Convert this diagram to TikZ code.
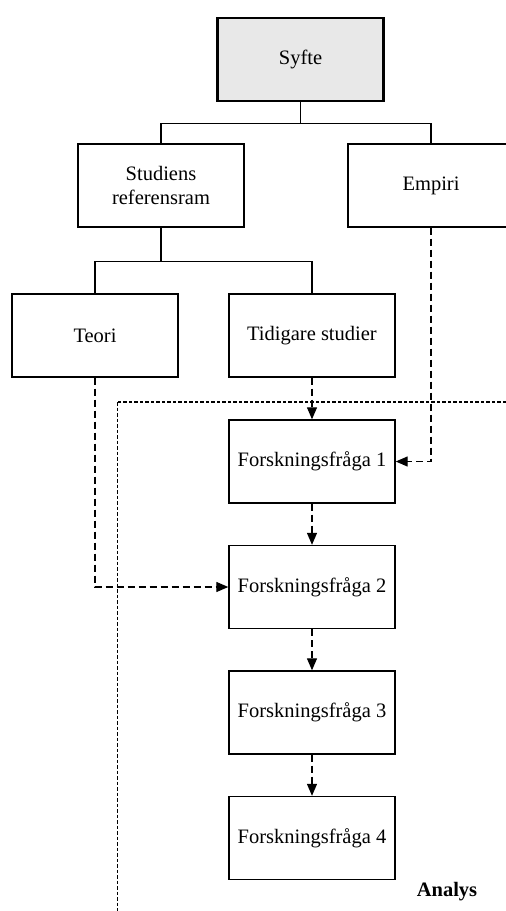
\documentclass[tikz,border=0pt]{standalone}
\usepackage{fontspec}
\setmainfont{Liberation Serif}
\usetikzlibrary{arrows.meta,positioning}

\begin{document}
\begin{tikzpicture}[x=1pt, y=-1pt,
    box/.style={draw, line width=1.4pt, minimum width=166pt, minimum height=83pt, align=center, font=\fontsize{20.5}{24}\selectfont},
    topbox/.style={box, fill=gray!18, line width=2.8pt},
    link/.style={line width=1.3pt},
    flow/.style={-{Triangle[length=12pt, width=10pt]}, line width=1.3pt, dash pattern=on 7pt off 4pt},
    analys/.style={line width=1.2pt, dash pattern=on 3.5pt off 2pt}
]
\useasboundingbox (0,0) rectangle (506,911);
\clip (0,0) rectangle (506,911);

% Top of the tree
\node[topbox] (syfte) at (300.5, 59.5) {Syfte};
\node[box] (ram) at (161, 185.5) {Studiens\\referensram};
\node[box] (empiri) at (431, 185.5) {Empiri};
\node[box] (teori) at (95, 335.5) {Teori};
\node[box] (tidigare) at (312, 335.5) {Tidigare studier};

% Research questions
\node[box] (ff1) at (312, 461.5) {Forskningsfråga 1};
\node[box] (ff2) at (312, 587) {Forskningsfråga 2};
\node[box] (ff3) at (312, 712.5) {Forskningsfråga 3};
\node[box] (ff4) at (312, 838) {Forskningsfråga 4};

% Tree lines
\draw[link] (syfte.south) -- ++(0,21) coordinate (bus1);
\draw[link] (bus1) -| (ram.north);
\draw[link] (bus1) -| (empiri.north);
\draw[link] (ram.south) -- ++(0,34) coordinate (bus2);
\draw[link] (bus2) -| (teori.north);
\draw[link] (bus2) -| (tidigare.north);

% Dashed arrows
\draw[flow] (tidigare.south) -- (ff1.north);
\draw[flow] (empiri.south) |- (ff1.east);
\draw[flow] (teori.south) |- (ff2.west);
\draw[flow] (ff1.south) -- (ff2.north);
\draw[flow] (ff2.south) -- (ff3.north);
\draw[flow] (ff3.south) -- (ff4.north);

% Analysis frame
\draw[analys] (117.5,402) rectangle (530,940);
\node[font=\fontsize{20.5}{24}\selectfont\bfseries] (analyslabel) at (447, 892) {Analys};

\end{tikzpicture}
\end{document}
